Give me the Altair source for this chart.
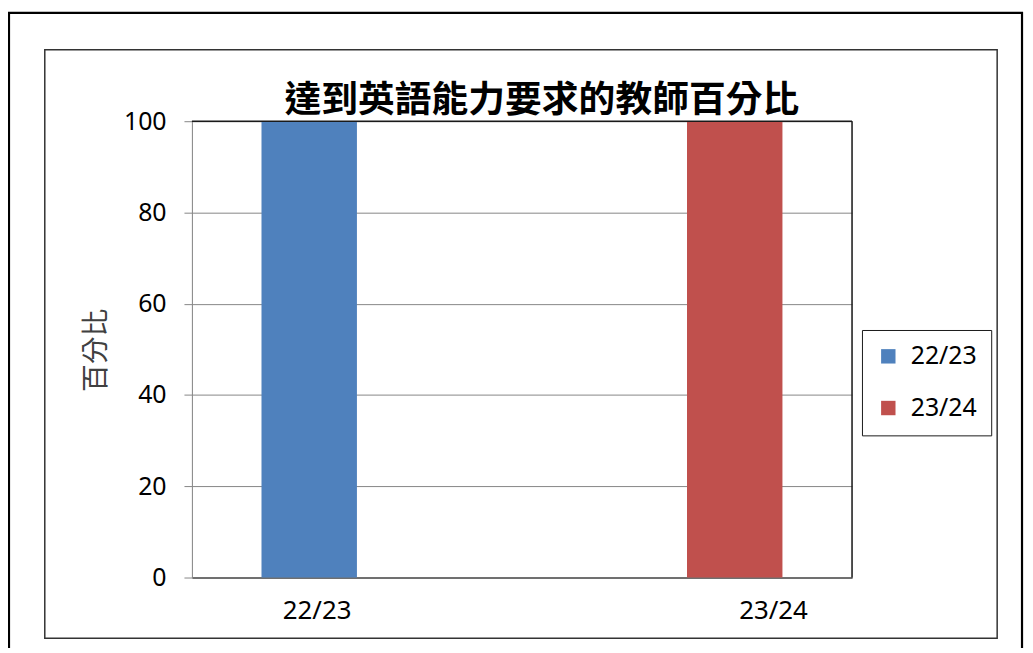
import altair as alt
import pandas as pd

# ---- data ----
categories = ["22/23", "23/24"]
series = ["22/23", "23/24"]
values = [100, 100]
y_ticks = [0, 20, 40, 60, 80, 100]
title_text = "達到英語能力要求的教師百分比"
y_title = "百分比"
colors = ["#4F81BD", "#C0504D"]

df = pd.DataFrame({"category": categories, "series": series, "value": values})

W, H = 664, 459
FONT = "Noto Sans"
CJK = "Noto Sans CJK TC"

bars = alt.Chart(df).mark_bar().encode(
    x=alt.X(
        "category:N",
        scale=alt.Scale(domain=categories, paddingInner=0.4217, paddingOuter=0.2108),
        sort=categories,
        axis=alt.Axis(
            title=None,
            labelAngle=0,
            labelFont=FONT,
            labelFontSize=26,
            labelColor="#000000",
            labelPadding=20,
            ticks=False,
            tickSize=0,
            domainColor="#262626",
            domainWidth=1.2,
            grid=False,
            labelOffset={"condition": {"test": "datum.value === '22/23'", "value": -40}, "value": 87},
        ),
    ),
    xOffset=alt.XOffset(
        "series:N",
        scale=alt.Scale(domain=series, paddingInner=0, paddingOuter=0),
    ),
    y=alt.Y(
        "value:Q",
        scale=alt.Scale(domain=[0, 100], nice=False),
        axis=alt.Axis(
            values=y_ticks,
            title=y_title,
            titleFont=CJK,
            titleFontSize=28,
            titleFontWeight="normal",
            titleColor="#404040",
            titleX=-96,
            titleY=230,
            titleAngle=270,
            titleAlign="center",
            titleBaseline="middle",
            labelFont=FONT,
            labelFontSize=25,
            labelColor="#000000",
            labelPadding=18,
            tickSize=8,
            tickColor="#868686",
            domainColor="#868686",
            gridColor="#868686",
            gridWidth=1,
            grid=True,
        ),
    ),
    color=alt.Color(
        "series:N",
        scale=alt.Scale(domain=series, range=colors),
        legend=alt.Legend(
            title=None,
            orient="none",
            legendX=674,
            legendY=210,
            direction="vertical",
            strokeColor="#1a1a1a",
            padding=14,
            symbolType="square",
            symbolSize=210,
            symbolStrokeWidth=0,
            labelFont=FONT,
            labelFontSize=25,
            labelColor="#000000",
            labelOffset=10,
            rowPadding=26,
        ),
    ),
)

one = alt.Data(values=[{}])

top_border = alt.Chart(one).mark_rule(color="#1a1a1a", strokeWidth=1.5).encode(
    x=alt.value(0), x2=alt.value(W), y=alt.value(0)
)
right_border = alt.Chart(one).mark_rule(color="#1a1a1a", strokeWidth=1.5).encode(
    x=alt.value(W), y=alt.value(0), y2=alt.value(H)
)

outer_frame = alt.Chart(one).mark_rect(fillOpacity=0, stroke="#000000", strokeWidth=2.2).encode(
    x=alt.value(-184), x2=alt.value(835), y=alt.value(-109), y2=alt.value(560)
)
inner_frame = alt.Chart(one).mark_rect(fillOpacity=0, stroke="#333333", strokeWidth=1.5).encode(
    x=alt.value(-148), x2=alt.value(810), y=alt.value(-72), y2=alt.value(520)
)

title = alt.Chart(alt.Data(values=[{"t": title_text}])).mark_text(
    font=CJK, fontSize=37, fontWeight="bold", color="#000000",
    align="center", baseline="middle",
).encode(text="t:N", x=alt.value(352), y=alt.value(-20))

chart = alt.layer(outer_frame, inner_frame, bars, top_border, right_border, title).properties(
    width=W,
    height=H,
    autosize=alt.AutoSizeParams(type="none"),
    padding={"left": 185, "top": 112, "right": 174, "bottom": 69},
).configure_view(stroke=None).configure(background="#ffffff")

chart.save("out.html", embed_options={"renderer": "svg", "actions": False})
